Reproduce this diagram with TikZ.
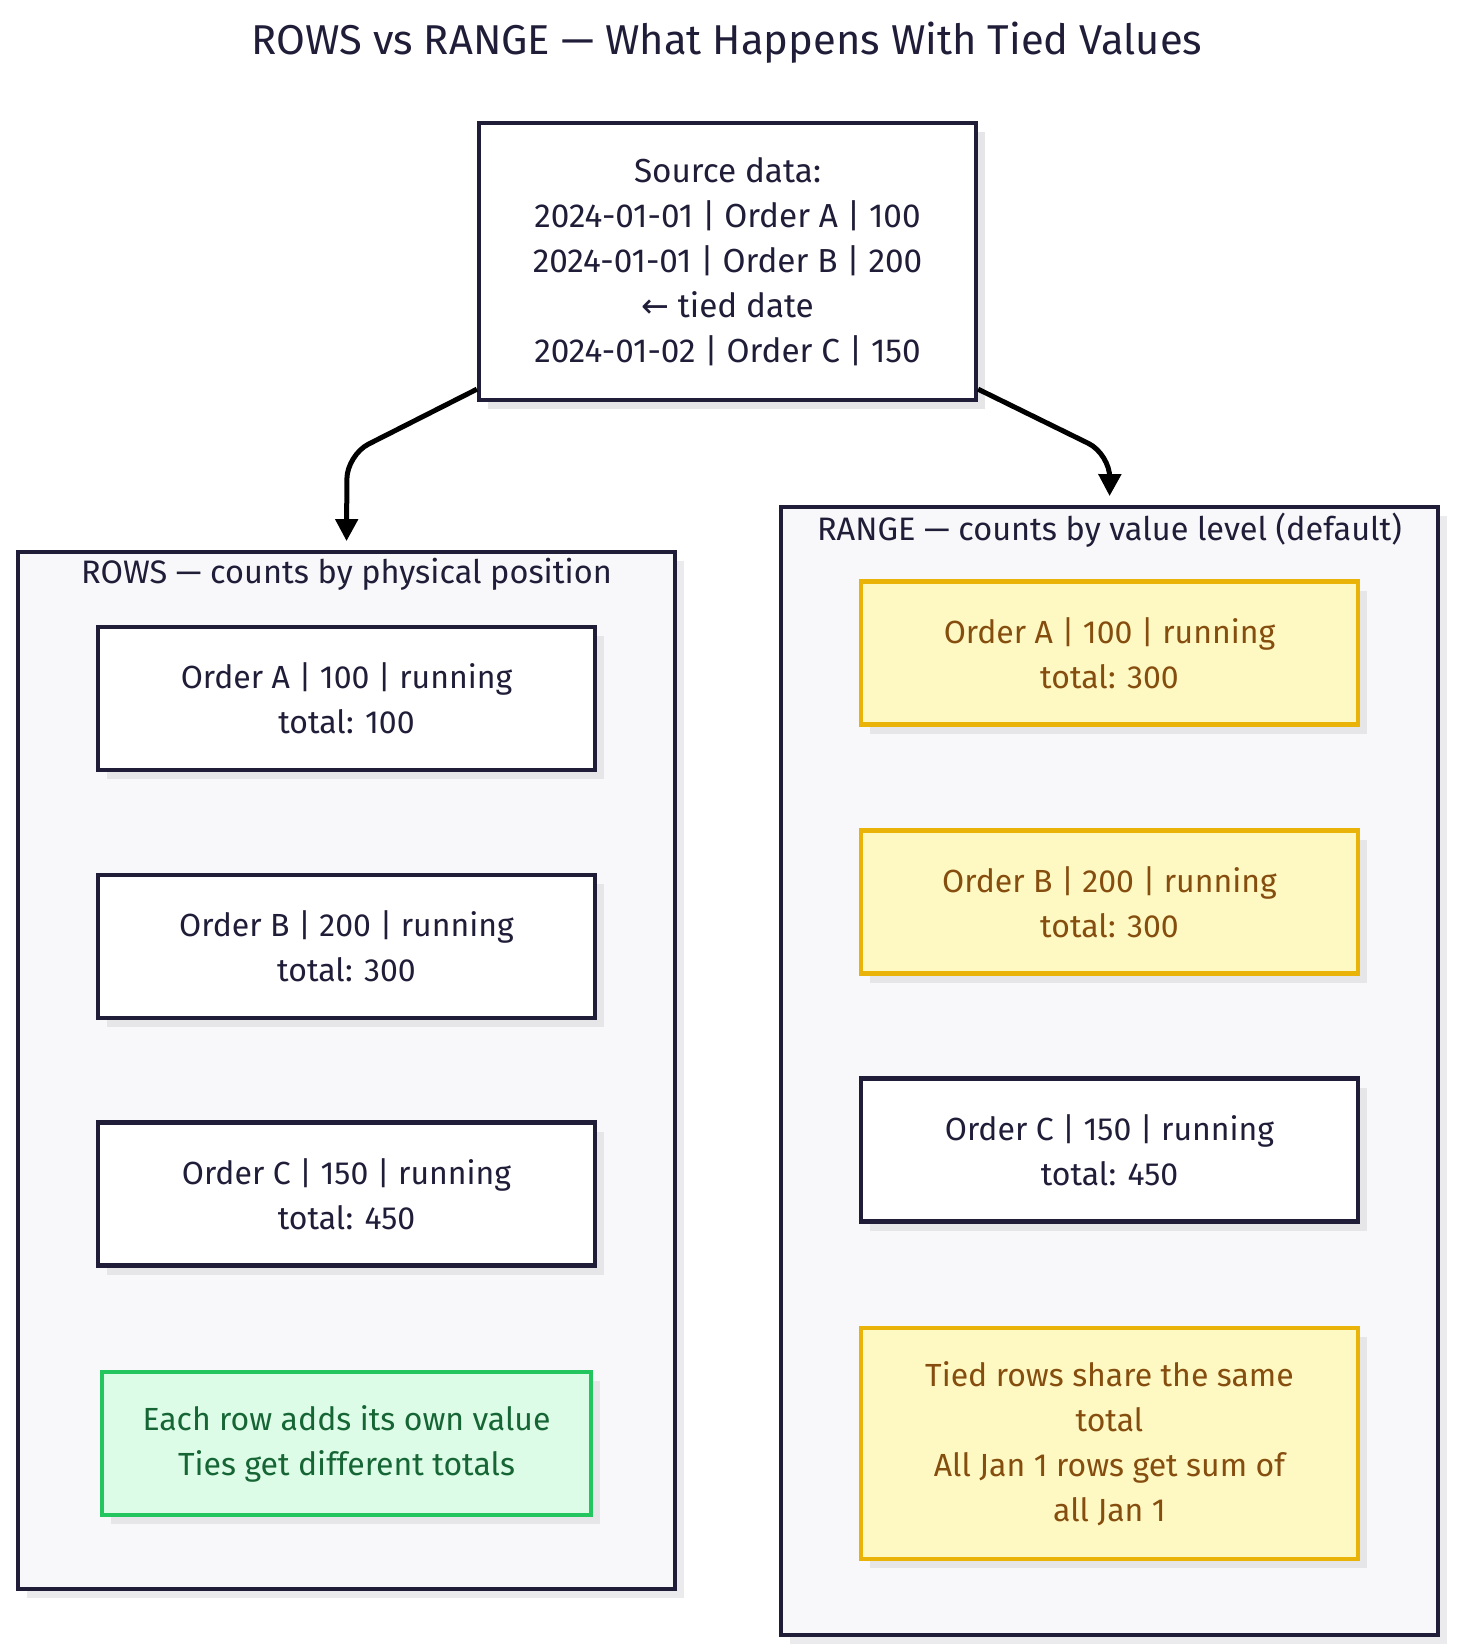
\documentclass[tikz,border=0pt]{standalone}
\usepackage{fontspec}
\setmainfont{Fira Sans}
\newfontfamily\symfont{DejaVu Sans}
\usepackage{xcolor}
\usepackage{tikz}
\usetikzlibrary{arrows.meta,positioning,shadows}
\definecolor{tinta}{HTML}{1F1D38}
\definecolor{fundo}{HTML}{F8F8FA}
\definecolor{sombra}{HTML}{E6E6E9}
\definecolor{amareloFundo}{HTML}{FEF9C3}
\definecolor{amareloBorda}{HTML}{EAB308}
\definecolor{amareloTexto}{HTML}{854D0E}
\definecolor{verdeFundo}{HTML}{DCFCE7}
\definecolor{verdeBorda}{HTML}{22C55E}
\definecolor{verdeTexto}{HTML}{166534}
\tikzset{
    caixa/.style={
        rectangle,
        draw=tinta,
        line width=4.2pt,
        fill=white,
        text=tinta,
        align=center,
        minimum width=497pt,
        minimum height=143pt,
        drop shadow={shadow xshift=9pt, shadow yshift=-9pt, fill=sombra, opacity=1}
    },
    empate/.style={caixa, draw=amareloBorda, fill=amareloFundo, text=amareloTexto},
    nota/.style={caixa, draw=verdeBorda, fill=verdeFundo, text=verdeTexto, minimum width=489pt},
    grupo/.style={
        rectangle,
        draw=tinta,
        line width=3.8pt,
        fill=fundo,
        minimum width=657pt,
        drop shadow={shadow xshift=9pt, shadow yshift=-9pt, fill=sombra!80, opacity=1}
    },
    rotulo/.style={text=tinta, font=\fontsize{32.5}{40}\selectfont},
    titulo/.style={text=tinta, font=\fontsize{41.7}{48}\selectfont},
    fluxo/.style={-{Triangle[width=22pt,length=22pt]}, line width=5pt, rounded corners=24pt, shorten >=9pt}
}

\begin{document}
\begin{tikzpicture}[x=1pt, y=-1pt, font=\fontsize{32}{45}\selectfont]
    \useasboundingbox (0,0) rectangle (1456,1651);

    \node[titulo] (title) at (727,43) {ROWS vs RANGE — What Happens With Tied Values};

    \node[caixa, minimum height=277pt, font=\fontsize{33.3}{45}\selectfont] (source) at (727.5,261.5)
        {Source data:\\
         2024-01-01 | Order A | 100\\
         2024-01-01 | Order B | 200\\
         {\symfont ←} tied date\\
         2024-01-02 | Order C | 150};

    % ROWS
    \node[grupo, minimum height=1037pt] (rows) at (346.5,1070.5) {};
    \node[rotulo] (rowsTitle) at (346.5,574) {ROWS — counts by physical position};
    \node[caixa] (rowsA) at (346.5,698.5) {Order A | 100 | running\\ total: 100};
    \node[caixa] (rowsB) at (346.5,946.5) {Order B | 200 | running\\ total: 300};
    \node[caixa] (rowsC) at (346.5,1194) {Order C | 150 | running\\ total: 450};
    \node[nota] (rowsNote) at (346.5,1443.5) {Each row adds its own value\\ Ties get different totals};

    % RANGE
    \node[grupo, minimum height=1128pt] (range) at (1109.5,1071) {};
    \node[rotulo] (rangeTitle) at (1109.5,530) {RANGE — counts by value level (default)};
    \node[empate] (rangeA) at (1109.5,653) {Order A | 100 | running\\ total: 300};
    \node[empate] (rangeB) at (1109.5,902) {Order B | 200 | running\\ total: 300};
    \node[caixa] (rangeC) at (1109.5,1150) {Order C | 150 | running\\ total: 450};
    \node[empate, minimum height=231pt] (rangeNote) at (1109.5,1443.5)
        {Tied rows share the same\\ total\\ All Jan 1 rows get sum of\\ all Jan 1};

    \coordinate (dobraE) at (347,455);
    \coordinate (dobraD) at (1110,454);
    \draw[fluxo] (source.207) -- (dobraE) -- (rows.north);
    \draw[fluxo] (source.333) -- (dobraD) -- (range.north);
\end{tikzpicture}
\end{document}
